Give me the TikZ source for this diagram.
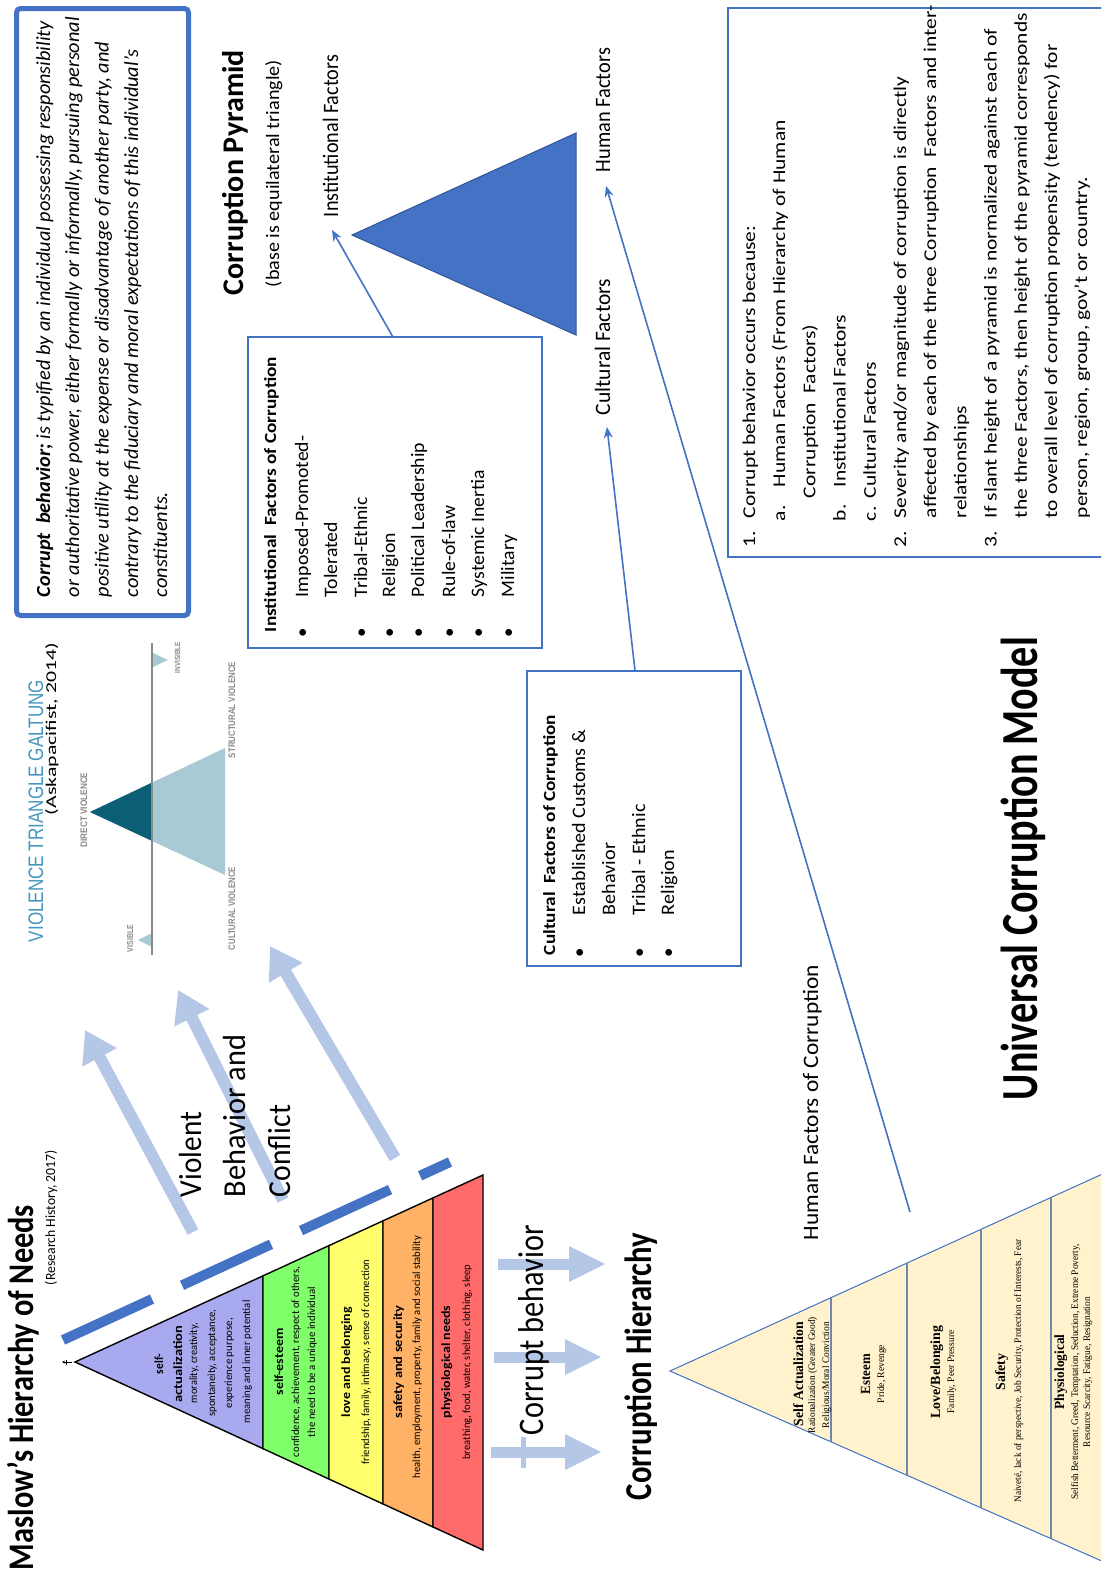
\documentclass[tikz,border=0pt]{standalone}
\usepackage{fontspec}
\setmainfont{Carlito}
\newfontfamily\serifface{Liberation Serif}
\newfontfamily\grotface{Liberation Sans}
\usepackage{graphicx}
\usetikzlibrary{arrows.meta,calc}

\definecolor{accent}{HTML}{4472C4}
\definecolor{accentdark}{HTML}{2F5597}
\definecolor{paleblue}{HTML}{B4C7E7}
\definecolor{lav}{HTML}{A9A9F0}
\definecolor{lgreen}{HTML}{7FFF6A}
\definecolor{lyellow}{HTML}{FFFF6E}
\definecolor{lorange}{HTML}{FFB266}
\definecolor{lred}{HTML}{FF6B6B}
\definecolor{gdark}{HTML}{0B5E73}
\definecolor{glight}{HTML}{A7CAD4}
\definecolor{gtitle}{HTML}{4596BE}
\definecolor{ggray}{HTML}{8A8A8A}
\definecolor{cream}{HTML}{FFF2CC}
\definecolor{divline}{HTML}{6F86B0}

% text helpers: font size, squeeze a text to a given length, group factor
\newsavebox\fitbox
\newlength\fitlen
\newcommand\fs[1]{\fontsize{#1}{#1}\selectfont}
\newcommand\fitto[2]{\sbox\fitbox{#2}\setlength\fitlen{\wd\fitbox}\pgfmathsetmacro\fitk{#1/\fitlen}\scalebox{\fitk}[1]{\usebox\fitbox}}
\newcommand\getk[3]{\sbox\fitbox{\normalfont#2}\setlength\fitlen{\wd\fitbox}\pgfmathsetmacro#1{#3/\fitlen}\global\let#1#1}
\newcommand\sq[2]{\scalebox{#1}[1]{#2}}

\begin{document}
% squeeze factors for the multi-line text groups
\getk{\kdef}{\fs{20}\itshape or authoritative power, either formally or informally, pursuing personal}{580}%
\getk{\kinst}{\fs{19}Political Leadership}{154}%
\getk{\kcult}{\fs{19}Established Customs \&}{185}%
\getk{\knote}{\fs{18}affected by each of the three Corruption\ \ Factors and inter-}{513}%
\begin{tikzpicture}[x=1pt, y=-1pt,
  rtxt/.style={rotate=90, anchor=base west, inner sep=0pt, outer sep=0pt},
  rmid/.style={rotate=90, anchor=base, inner sep=0pt, outer sep=0pt},
  conn/.style={draw=accent, line width=1.6pt, -{Stealth[length=11pt,width=9pt]}},
  fatarrow/.style={draw=paleblue, line width=12pt, -{Triangle[length=31pt,width=37pt]}},
  sidearrow/.style={draw=paleblue, line width=11pt, -{Triangle[length=37pt,width=33pt]}},
  framebox/.style={draw=accent, inner sep=0pt, outer sep=0pt}
]
\useasboundingbox (0,0) rectangle (1101,1572);
\fill[white] (0,0) rectangle (1101,1572);
\clip (0,0) rectangle (1101,1572);

% ---------------- definition box ----------------
\node[framebox, line width=5pt, rounded corners=4pt, minimum width=172pt, minimum height=607pt] (defbox) at (102.5,312) {};
\node[rtxt] (def1) at (50,597) {\sq{\kdef}{\fs{20}\itshape\textbf{Corrupt\ \ behavior;} is typified by an individual possessing responsibility}};
\node[rtxt] (def2) at (79,597) {\sq{\kdef}{\fs{20}\itshape or authoritative power, either formally or informally, pursuing personal}};
\node[rtxt] (def3) at (108.5,597) {\sq{\kdef}{\fs{20}\itshape positive utility at the expense or disadvantage of another party, and}};
\node[rtxt] (def4) at (138,597) {\sq{\kdef}{\fs{20}\itshape contrary to the fiduciary and moral expectations of this individual’s}};
\node[rtxt] (def5) at (167,597) {\sq{\kdef}{\fs{20}\itshape constituents.}};

% ---------------- Galtung violence triangle ----------------
\node[rtxt, text=gtitle] (gtitle) at (43,942) {\fitto{262}{\fs{21}\grotface VIOLENCE TRIANGLE GALTUNG}};
\node[rtxt] (gsrc) at (56,815) {\fitto{172}{\fs{15}(Askapacifist, 2014)}};
\coordinate (gApex) at (90,812);
\coordinate (gB1) at (225,748);
\coordinate (gB2) at (225,875);
\fill[glight] (gApex) -- (gB1) -- (gB2) -- cycle;
\fill[gdark] (gApex) -- (152,782.6) -- (152,840.9) -- cycle;
\fill[glight] (138,940) -- (152,933) -- (152,947) -- cycle;
\fill[glight] (168,660) -- (153,653) -- (153,667) -- cycle;
\draw[ggray, line width=2pt] (152,643) -- (152,955);
\node[rmid, text=ggray] (gdirect) at (87,810) {\fitto{75}{\fs{9.5}\grotface\bfseries DIRECT VIOLENCE}};
\node[rtxt, text=ggray] (gvisible) at (133,952) {\fitto{27}{\fs{8.5}\grotface\bfseries VISIBLE}};
\node[rtxt, text=ggray] (gcult) at (235,950) {\fitto{83}{\fs{9.5}\grotface\bfseries CULTURAL VIOLENCE}};
\node[rtxt, text=ggray] (gstruct) at (235,758) {\fitto{96}{\fs{9.5}\grotface\bfseries STRUCTURAL VIOLENCE}};
\node[rtxt, text=ggray] (ginvis) at (180,673) {\fitto{31}{\fs{7.5}\grotface\bfseries INVISIBLE}};

% ---------------- violent behaviour arrows ----------------
\coordinate (vt1) at (193,1232); \coordinate (vh1) at (85,1030);
\coordinate (vt2) at (283,1200); \coordinate (vh2) at (178,990);
\coordinate (vt3) at (395,1158); \coordinate (vh3) at (270,946);
\draw[fatarrow] (vt1) -- (vh1);
\draw[fatarrow] (vt2) -- (vh2);
\draw[fatarrow] (vt3) -- (vh3);
\node[rtxt] (viol1) at (201,1197) {\fitto{85}{\fs{32}Violent}};
\node[rtxt] (viol2) at (245,1197) {\fitto{162}{\fs{32}Behavior and}};
\node[rtxt] (viol3) at (290,1197) {\fitto{92}{\fs{32}Conflict}};

% ---------------- Maslow pyramid ----------------
\node[rtxt] (mtitle) at (33,1570) {\fitto{365}{\fs{36}\bfseries Maslow’s Hierarchy of Needs}};
\node[rtxt] (msrc) at (55,1285) {\fitto{135}{\fs{14}(Research History, 2017)}};
\coordinate (mA) at (75,1362);
\coordinate (mU) at (483,1175);
\coordinate (mL) at (483,1550);
\foreach \ta/\tb/\col in {0/.4608/lav, .4608/.6225/lgreen, .6225/.7549/lyellow, .7549/.8775/lorange, .8775/1/lred}
  \filldraw[fill=\col, draw=black, line width=1.4pt, line join=miter]
    ($(mA)!\ta!(mU)$) -- ($(mA)!\tb!(mU)$) -- ($(mA)!\tb!(mL)$) -- ($(mA)!\ta!(mL)$) -- cycle;
\draw[line width=0.6pt, -{Stealth[length=3pt,width=3pt]}] (72,1362) -- (62,1362);
\draw[line width=0.6pt] (66,1359.5) -- (66,1364.5);
\draw[accent, line width=10pt, dash pattern=on 98pt off 33pt] (63,1340) -- (450,1162);

\node[rmid] (saA) at (163,1364) {\fitto{20}{\fs{12.5}\bfseries self-}};
\node[rmid] (saB) at (182,1364) {\fitto{77}{\fs{12.5}\bfseries actualization}};
\node[rmid] (saC) at (197,1363) {\fitto{80}{\fs{11}morality, creativity,}};
\node[rmid] (saD) at (215,1363) {\fitto{107}{\fs{11}spontaneity, acceptance,}};
\node[rmid] (saE) at (232,1363) {\fitto{90}{\fs{11}experience purpose,}};
\node[rmid] (saF) at (250,1362) {\fitto{123}{\fs{11}meaning and inner potential}};
\node[rmid] (seA) at (283,1362) {\fitto{67}{\fs{12.5}\bfseries self-esteem}};
\node[rmid] (seB) at (299,1362) {\fitto{190}{\fs{11}confidence, achievement, respect of others,}};
\node[rmid] (seC) at (315,1362) {\fitto{150}{\fs{11}the need to be a unique individual}};
\node[rmid] (lbA) at (350,1362) {\fitto{110}{\fs{12.5}\bfseries love and belonging}};
\node[rmid] (lbB) at (369,1362) {\fitto{205}{\fs{11}friendship, family, intimacy, sense of connection}};
\node[rmid] (ssA) at (402,1362) {\fitto{113}{\fs{12.5}\bfseries safety and security}};
\node[rmid] (ssB) at (420,1357) {\fitto{242}{\fs{11}health, employment, property, family and social stability}};
\node[rmid] (phA) at (450,1362) {\fitto{113}{\fs{12.5}\bfseries physiological needs}};
\node[rmid] (phB) at (470,1362) {\fitto{195}{\fs{11}breathing, food, water, shelter, clothing, sleep}};

% ---------------- corrupt behaviour arrows ----------------
\coordinate (ct1) at (498,1264); \coordinate (ch1) at (606,1264);
\coordinate (ct2) at (494,1357); \coordinate (ch2) at (602,1357);
\coordinate (ct3) at (491,1452); \coordinate (ch3) at (602,1452);
\draw[sidearrow] (ct1) -- (ch1);
\draw[sidearrow] (ct2) -- (ch2);
\draw[sidearrow] (ct3) -- (ch3);
\fill[paleblue] (521,1437) rectangle (526,1468);
\node[rtxt] (corrbeh) at (543,1435) {\fitto{210}{\fs{36}Corrupt\ behavior}};
\node[rtxt] (corrhier) at (651,1500) {\fitto{267}{\fs{38}\bfseries Corruption Hierarchy}};

% ---------------- corruption hierarchy pyramid ----------------
\coordinate (cA) at (670,1371);
\coordinate (cU) at (1120,1166);
\coordinate (cL) at (1120,1569);
\filldraw[fill=cream, draw=accent, line width=1pt] (cA) -- (cU) -- (cL) -- cycle;
\foreach \t in {.3578,.5267,.6911,.8467}
  \draw[divline, line width=1.2pt] ($(cA)!\t!(cU)$) -- ($(cA)!\t!(cL)$);
\node[rmid] (hSA) at (803,1374) {\fitto{104}{\fs{14}\serifface\bfseries Self Actualization}};
\node[rmid] (hSAa) at (815,1375) {\fitto{116}{\fs{10}\serifface Rationalization (Greater Good)}};
\node[rmid] (hSAb) at (829,1375) {\fitto{106}{\fs{10}\serifface Religious/Moral Conviction}};
\node[rmid] (hES) at (870,1374) {\fitto{40}{\fs{14}\serifface\bfseries Esteem}};
\node[rmid] (hESa) at (884,1374) {\fitto{58}{\fs{10}\serifface Pride, Revenge}};
\node[rmid] (hLB) at (940,1372) {\fitto{93}{\fs{14}\serifface\bfseries Love/Belonging}};
\node[rmid] (hLBa) at (954,1372) {\fitto{83}{\fs{10}\serifface Family, Peer Pressure}};
\node[rmid] (hSF) at (1005,1372) {\fitto{37}{\fs{14}\serifface\bfseries Safety}};
\node[rmid] (hSFa) at (1021,1371) {\fitto{263}{\fs{10}\serifface Naiveté, lack of perspective, Job Security, Protection of Interests, Fear}};
\node[rmid] (hPH) at (1064,1372) {\fitto{75}{\fs{14}\serifface\bfseries Physiological}};
\node[rmid] (hPHa) at (1078,1372) {\fitto{255}{\fs{10}\serifface Selfish Betterment, Greed, Temptation, Seduction, Extreme Poverty,}};
\node[rmid] (hPHb) at (1090,1372) {\fitto{150}{\fs{10}\serifface Resource Scarcity, Fatigue, Resignation}};

% ---------------- corruption pyramid ----------------
\node[rtxt] (ptitle) at (243,295) {\fitto{245}{\fs{30}\bfseries Corruption Pyramid}};
\node[rtxt] (psub) at (279,287) {\fitto{227}{\fs{19}(base is equilateral triangle)}};
\coordinate (pA) at (352,235);
\coordinate (pB1) at (576,133);
\coordinate (pB2) at (576,335);
\filldraw[fill=accent, draw=accentdark, line width=1pt] (pA) -- (pB1) -- (pB2) -- cycle;
\node[rtxt] (lblInst) at (338,217) {\fitto{162}{\fs{22}Institutional Factors}};
\node[rtxt] (lblHum) at (610,172) {\fitto{124}{\fs{22}Human Factors}};
\node[rtxt] (lblCult) at (610,415) {\fitto{136}{\fs{22}Cultural Factors}};
\coordinate (tipInst) at (332,230);
\coordinate (tipCult) at (607,427);
\coordinate (tipHum) at (606,186);

% ---------------- institutional factors box ----------------
\node[framebox, line width=1.5pt, minimum width=294pt, minimum height=311pt] (instbox) at (395,492.5) {};
\node[rtxt] (instT) at (276,632) {\fitto{275}{\fs{17}\bfseries Institutional\ \ Factors of Corruption}};
\foreach \b/\name/\txt in {308/i1/Imposed-Promoted-, 337/i2/Tolerated, 367/i3/Tribal-Ethnic, 395/i4/Religion, 424/i5/Political Leadership, 455/i6/Rule-of-law, 484/i7/Systemic Inertia, 514/i8/Military}
  \node[rtxt] (\name) at (\b,597) {\sq{\kinst}{\fs{19}\txt}};
\foreach \b/\name in {308/ib1, 367/ib3, 395/ib4, 424/ib5, 455/ib6, 484/ib7, 514/ib8}
  \node[rmid] (\name) at (\b,633) {\fs{19}\textbullet};

% ---------------- cultural factors box ----------------
\node[framebox, line width=1.5pt, minimum width=214pt, minimum height=295pt] (cultbox) at (634,818.5) {};
\node[rtxt] (cultT) at (555,955) {\fitto{240}{\fs{17}\bfseries Cultural\ \ Factors of Corruption}};
\node[rtxt] (c1) at (585,915) {\sq{\kcult}{\fs{19}Established Customs \&}};
\node[rtxt] (c2) at (615,915) {\sq{\kcult}{\fs{19}Behavior}};
\node[rtxt] (c3) at (645,915) {\sq{\kcult}{\fs{19}Tribal - Ethnic}};
\node[rtxt] (c4) at (674,915) {\sq{\kcult}{\fs{19}Religion}};
\foreach \b/\name in {585/cb1, 645/cb3, 674/cb4}
  \node[rmid] (\name) at (\b,953) {\fs{19}\textbullet};

% ---------------- connectors ----------------
\coordinate (humStart) at (910,1212);
\draw[conn] ($(instbox.north west)!0.493!(instbox.north east)$) -- (tipInst);
\draw[conn] ($(cultbox.north west)!0.505!(cultbox.north east)$) -- (tipCult);
\draw[conn] (humStart) -- (tipHum);
\node[rtxt] (humLbl) at (818,1240) {\fitto{275}{\fs{22}Human Factors of Corruption}};

% ---------------- model title ----------------
\node[rtxt] (modelT) at (1037,1100) {\fitto{463}{\fs{52}\bfseries Universal Corruption Model}};

% ---------------- notes box ----------------
\node[framebox, line width=2pt, minimum width=400pt, minimum height=549pt] (notebox) at (928,282.5) {};
\node[rtxt] (n1n) at (755,547) {\sq{\knote}{\fs{18}1.}};
\node[rtxt] (n1) at (755,518) {\sq{\knote}{\fs{18}Corrupt behavior occurs because:}};
\node[rtxt] (n1an) at (785.2,521) {\sq{\knote}{\fs{18}a.}};
\node[rtxt] (n1a) at (785.2,487) {\sq{\knote}{\fs{18}Human Factors (From Hierarchy of Human}};
\node[rtxt] (n1a2) at (815.4,498) {\sq{\knote}{\fs{18}Corruption\ \ Factors)}};
\node[rtxt] (n1bn) at (845.6,521) {\sq{\knote}{\fs{18}b.}};
\node[rtxt] (n1b) at (845.6,487) {\sq{\knote}{\fs{18}Institutional Factors}};
\node[rtxt] (n1cn) at (875.8,521) {\sq{\knote}{\fs{18}c.}};
\node[rtxt] (n1c) at (875.8,498) {\sq{\knote}{\fs{18}Cultural Factors}};
\node[rtxt] (n2n) at (906,547) {\sq{\knote}{\fs{18}2.}};
\node[rtxt] (n2) at (906,518) {\sq{\knote}{\fs{18}Severity and/or magnitude of corruption is directly}};
\node[rtxt] (n2b) at (936.2,518) {\sq{\knote}{\fs{18}affected by each of the three Corruption\ \ Factors and inter-}};
\node[rtxt] (n2c) at (966.4,518) {\sq{\knote}{\fs{18}relationships}};
\node[rtxt] (n3n) at (996.6,547) {\sq{\knote}{\fs{18}3.}};
\node[rtxt] (n3) at (996.6,518) {\sq{\knote}{\fs{18}If slant height of a pyramid is normalized against each of}};
\node[rtxt] (n3b) at (1026.8,518) {\sq{\knote}{\fs{18}the three Factors, then height of the pyramid corresponds}};
\node[rtxt] (n3c) at (1057,518) {\sq{\knote}{\fs{18}to overall level of corruption propensity (tendency) for}};
\node[rtxt] (n3d) at (1087.2,518) {\sq{\knote}{\fs{18}person, region, group, gov’t or country.}};
\end{tikzpicture}
\end{document}
